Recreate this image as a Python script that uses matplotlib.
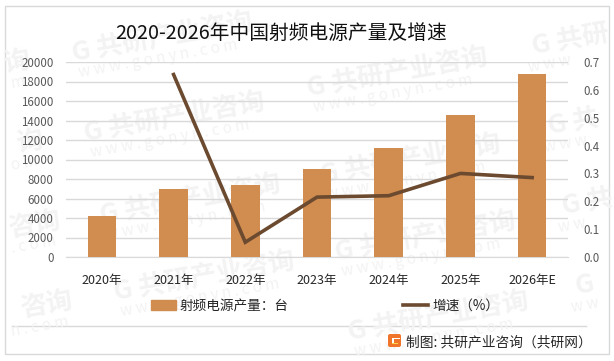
import matplotlib
matplotlib.use('Agg')
import matplotlib.pyplot as plt
from matplotlib.patches import Rectangle, FancyBboxPatch
from matplotlib.lines import Line2D

plt.rcParams['font.family'] = ['Noto Sans CJK SC', 'DejaVu Sans']

years = ['2020年', '2021年', '2022年', '2023年', '2024年', '2025年', '2026年E']
output = [4200, 7000, 7400, 9050, 11200, 14600, 18800]
growth = [None, 0.655, 0.053, 0.215, 0.22, 0.30, 0.285]
left_ticks = [0, 2000, 4000, 6000, 8000, 10000, 12000, 14000, 16000, 18000, 20000]
right_ticks = [0.0, 0.1, 0.2, 0.3, 0.4, 0.5, 0.6, 0.7]

W, H = 614, 361
bar_color = '#d18c4f'
line_color = '#6b4a2f'
mark_color = '#f3f3f3'

# watermark pieces: text, url text, anchor x, anchor y, alignment (pixels)
full = 'G 共研产业咨询'
url = 'w w w . g o n y n . c o m'
marks = [(full, url, 162, 38, 'center'), (full, url, 174, 118, 'center'),
         (full, url, 190, 200, 'center'), (full, url, 204, 277, 'center'),
         (full, url, 397, 73, 'center'), (full, url, 410, 160, 'center'),
         (full, url, 425, 237, 'center'), (full, url, 438, 317, 'center'),
         ('询', 'm', 29, 60, 'right'), ('询', 'o m', 42, 140, 'right'),
         ('咨询', '. c o m', 60, 220, 'right'), ('咨询', 'n . c o m', 72, 300, 'right'),
         ('G 共研', 'w w w', 532, 47, 'left'), ('G 共', 'w w w', 548, 127, 'left'),
         ('G 共', 'w w', 562, 207, 'left'), ('G', 'w w', 575, 287, 'left')]

fig = plt.figure(figsize=(W/100, H/100), dpi=100, facecolor='white')

# background layer in pixel coordinates
bg = fig.add_axes([0, 0, 1, 1], zorder=0)
bg.set_xlim(0, W)
bg.set_ylim(H, 0)
bg.axis('off')
bg.add_patch(Rectangle((4.5, 5.5), 604.5, 348.5, fill=False, ec='#d9d9d9', lw=1))
bg.plot([11.5, 586], [325.5, 325.5], color='#d9d9d9', lw=1)
for text, sub, mx, my, align in marks:
    bg.text(mx, my, text, fontsize=19, fontweight='bold', color=mark_color,
            rotation=10, ha=align, va='center', rotation_mode='anchor')
    bg.text(mx - 4, my + 21, sub, fontsize=11, color=mark_color,
            rotation=10, ha=align, va='center', rotation_mode='anchor')

# chart
ax = fig.add_axes([66/W, 1 - 257/H, 502/W, 195/H], zorder=1)
ax.patch.set_alpha(0)
x = list(range(len(years)))
ax.bar(x, output, width=0.4, color=bar_color, zorder=3)
ax.set_xlim(-0.5, 6.5)
ax.set_ylim(0, 20000)
ax.set_yticks(left_ticks)
ax.set_xticks(x)
ax.set_xticklabels(years)
ax.tick_params(axis='x', length=0, pad=12, labelsize=9, labelcolor='#262626')
ax.tick_params(axis='y', length=0, pad=9, labelsize=8.3, labelcolor='#595959')
ax.grid(axis='y', color='#d9d9d9', lw=1, zorder=1)
ax.set_axisbelow(True)
for s in ['top', 'left', 'right']:
    ax.spines[s].set_visible(False)
ax.spines['bottom'].set_color('#d9d9d9')

ax2 = ax.twinx()
ax2.plot(x[1:], growth[1:], color=line_color, lw=2.6, solid_joinstyle='miter', zorder=4)
ax2.set_ylim(0, 0.7)
ax2.set_yticks(right_ticks)
ax2.set_yticklabels([f'{v:.1f}' for v in right_ticks])
ax2.tick_params(axis='y', length=0, pad=11, labelsize=8.3, labelcolor='#595959')
for s in ax2.spines.values():
    s.set_visible(False)

fig.text(281.5/W, 1 - 33.5/H, '2020-2026年中国射频电源产量及增速', fontsize=14.2, color='#111111',
         ha='center', va='center')

# legend
handles = [Rectangle((0, 0), 1, 1, color=bar_color),
           Line2D([0], [0], color=line_color, lw=2.6)]
fig.legend(handles, ['射频电源产量：台', '增速（%）'], ncol=2, frameon=False, fontsize=9.8,
           loc='center', bbox_to_anchor=(325/W, 1 - 306/H), columnspacing=8.4,
           handlelength=1.85, handleheight=0.8, handletextpad=0.3, labelcolor='#262626')

# source line with logo
fg = fig.add_axes([0, 0, 1, 1], zorder=2)
fg.set_xlim(0, W)
fg.set_ylim(H, 0)
fg.axis('off')
fg.add_patch(FancyBboxPatch((389, 335), 11, 11, boxstyle='round,pad=1,rounding_size=2',
                            fc='#f0742a', ec='none'))
fg.add_patch(Rectangle((392, 337.5), 7.5, 1.8, fc='white', ec='none'))
fg.add_patch(Rectangle((392, 337.5), 1.8, 6.5, fc='white', ec='none'))
fg.add_patch(Rectangle((392, 342.5), 6, 1.8, fc='#ffd24a', ec='none'))
fg.text(406, 342, '制图: 共研产业咨询（共研网）', fontsize=9.9, color='#262626', ha='left', va='center')

fig.savefig('out.png', dpi=100)
